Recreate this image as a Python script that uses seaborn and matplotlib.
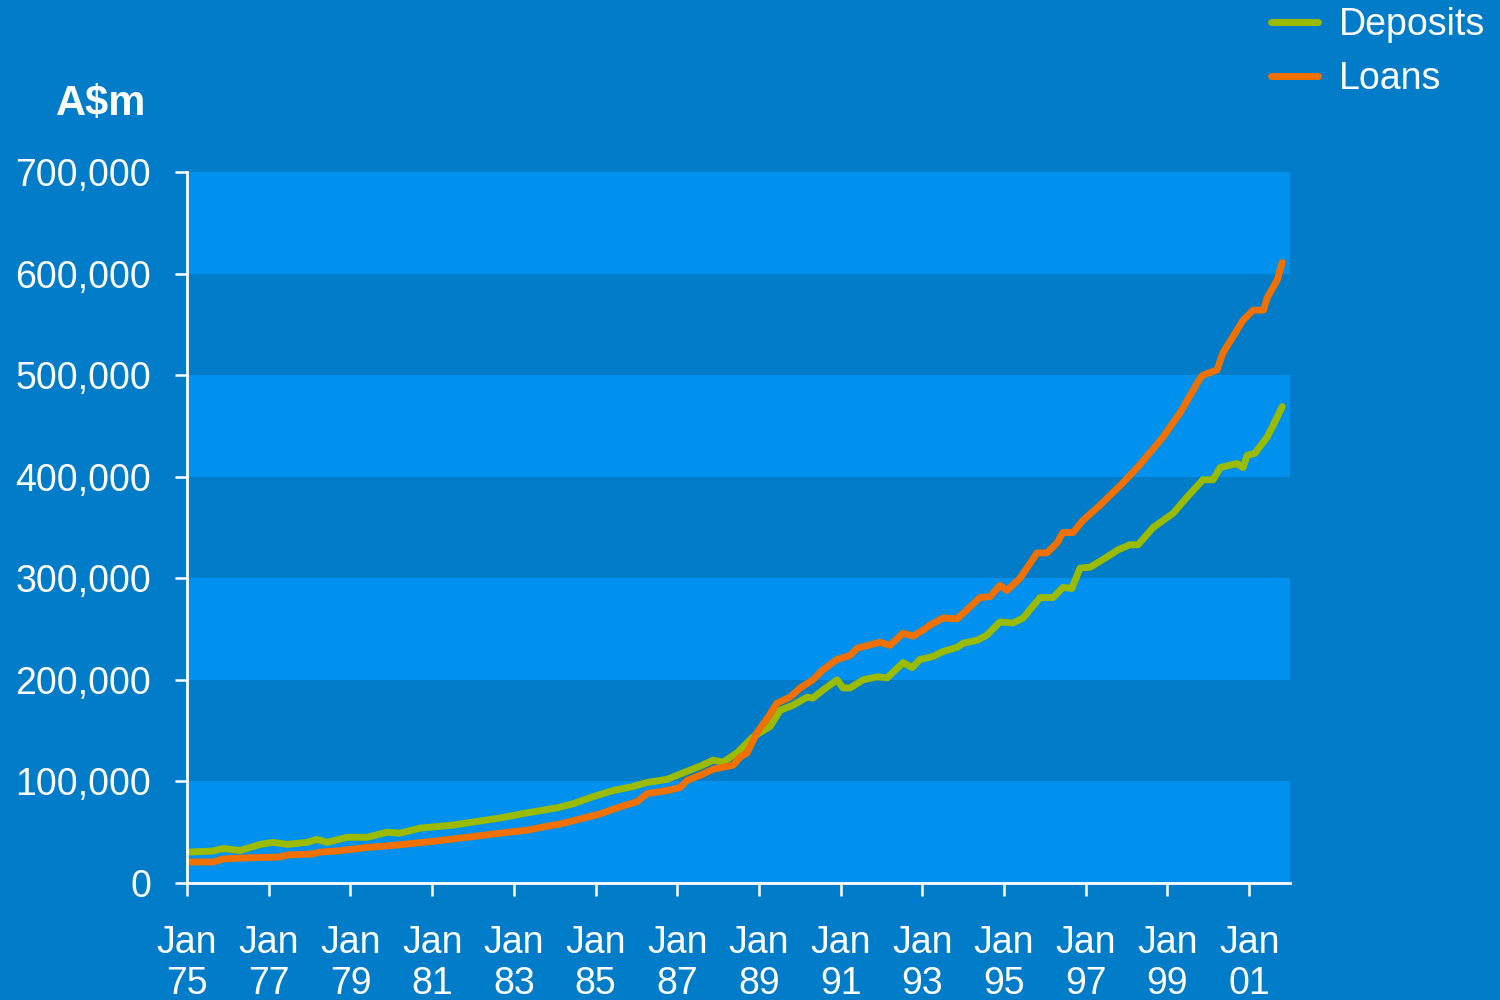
import pandas as pd
import matplotlib
matplotlib.use("Agg")
import matplotlib.pyplot as plt
import seaborn as sns

# Deposits and loans, A$m (decimal years)
dep_years = [1975.07, 1975.64, 1975.88, 1976.30, 1976.79, 1977.11, 1977.45, 1977.94,
             1978.18, 1978.43, 1978.92, 1979.41, 1979.90, 1980.21, 1980.70, 1981.51,
             1982.00, 1982.66, 1983.32, 1984.06, 1984.45, 1984.94, 1985.43, 1985.92,
             1986.26, 1986.75, 1987.24, 1987.56, 1987.88, 1988.12, 1988.46, 1988.86,
             1989.27, 1989.52, 1989.83, 1990.18, 1990.32, 1990.57, 1990.91, 1991.06,
             1991.23, 1991.55, 1991.89, 1992.14, 1992.53, 1992.75, 1992.94, 1993.26,
             1993.51, 1993.85, 1994.00, 1994.34, 1994.58, 1994.90, 1995.22, 1995.47,
             1995.88, 1996.20, 1996.44, 1996.66, 1996.86, 1997.11, 1997.52, 1997.79,
             1998.08, 1998.28, 1998.65, 1999.14, 1999.48, 1999.87, 2000.12, 2000.29,
             2000.70, 2000.85, 2000.95, 2001.14, 2001.44, 2001.69, 2001.81]
dep_values = [30500, 31500, 34000, 32000, 38000, 40000, 38000, 40000,
              43000, 40000, 45000, 45000, 50000, 49000, 54000, 57000,
              60000, 64000, 69000, 74000, 78000, 85000, 91000, 95000,
              99000, 102000, 110000, 115000, 121000, 119000, 128000, 144000,
              154000, 170000, 175000, 183000, 182000, 190000, 200000, 192000,
              192000, 200000, 203000, 202000, 217000, 212000, 220000, 223000,
              228000, 232000, 236000, 239000, 244000, 257000, 256000, 261000,
              281000, 281000, 291000, 290000, 310000, 311000, 321000, 328000,
              333000, 333000, 350000, 364000, 380000, 397000, 397000, 409000,
              413000, 409000, 421000, 423000, 439000, 459000, 469000]

loan_years = [1975.07, 1975.64, 1975.88, 1976.37, 1977.28, 1977.45, 1978.08, 1978.26,
              1978.67, 1979.41, 1980.04, 1980.53, 1981.02, 1981.85, 1982.66, 1983.32,
              1983.96, 1984.13, 1984.62, 1985.11, 1985.60, 1986.02, 1986.26, 1986.75,
              1987.07, 1987.24, 1987.56, 1987.88, 1988.37, 1988.54, 1988.71, 1988.95,
              1989.20, 1989.44, 1989.76, 1990.01, 1990.32, 1990.57, 1990.91, 1991.23,
              1991.40, 1991.96, 1992.21, 1992.53, 1992.77, 1993.02, 1993.19, 1993.51,
              1993.85, 1994.09, 1994.41, 1994.66, 1994.90, 1995.07, 1995.39, 1995.81,
              1996.05, 1996.30, 1996.44, 1996.69, 1996.93, 1997.35, 1997.91, 1998.33,
              1998.89, 1999.31, 1999.80, 1999.87, 2000.21, 2000.36, 2000.85, 2001.10,
              2001.35, 2001.44, 2001.69, 2001.81]
loan_values = [20700, 20700, 23600, 24600, 25600, 27600, 28600, 30500,
               31500, 35000, 37000, 39000, 41000, 45000, 49000, 52000,
               57000, 58000, 63000, 68000, 75000, 80000, 88000, 91000,
               94000, 101000, 106000, 112000, 116000, 124000, 128000, 148000,
               162000, 177000, 183000, 192000, 200000, 210000, 220000, 224000,
               231000, 237000, 234000, 246000, 243000, 249000, 254000, 261000,
               260000, 269000, 281000, 282000, 293000, 288000, 300000, 325000,
               325000, 335000, 345000, 345000, 357000, 372000, 394000, 412000,
               439000, 463000, 497000, 500000, 505000, 522000, 554000, 564000,
               564000, 576000, 594000, 611000]

tick_years = list(range(1975, 2002, 2))
tick_labels = ["Jan\n" + str(y)[-2:] for y in tick_years]
y_ticks = [0, 100000, 200000, 300000, 400000, 500000, 600000, 700000]

bg = "#007CC8"
band = "#0091EE"
colors = {"Deposits": "#9BBB00", "Loans": "#F07000"}

df = pd.concat([
    pd.DataFrame({"year": dep_years, "value": dep_values, "series": "Deposits"}),
    pd.DataFrame({"year": loan_years, "value": loan_values, "series": "Loans"}),
])

sns.set_style("white")
plt.rcParams["font.family"] = ["Liberation Sans", "DejaVu Sans"]

fig = plt.figure(figsize=(15, 10), dpi=100, facecolor=bg)
ax = fig.add_axes([0.1247, 0.117, 0.7353, 0.711])
ax.set_facecolor(bg)

# alternating horizontal bands
for lo in y_ticks[::2]:
    ax.axhspan(lo, lo + 100000, color=band, lw=0, zorder=0)

sns.lineplot(data=df, x="year", y="value", hue="series", hue_order=["Deposits", "Loans"],
             palette=colors, linewidth=5, estimator=None, sort=True, ax=ax, legend=False)

ax.set_xlim(1975, 2002)
ax.set_ylim(0, 700000)
ax.set_xticks(tick_years)
ax.set_xticklabels(tick_labels, fontsize=27, color="white", linespacing=1.2)
ax.set_yticks(y_ticks)
ax.set_yticklabels([f"{v:,}" for v in y_ticks], fontsize=27, color="white")
ax.tick_params(axis="both", direction="out", length=9, width=1.8, color="white",
               bottom=True, left=True)
ax.tick_params(axis="y", pad=17)
ax.tick_params(axis="x", pad=21)
ax.set_xlabel("")
ax.set_ylabel("")

for side in ["top", "right"]:
    ax.spines[side].set_visible(False)
for side in ["left", "bottom"]:
    ax.spines[side].set_color("white")
    ax.spines[side].set_linewidth(2)

fig.text(0.037, 0.896, r"A\$m", fontsize=30, fontweight="bold", color="white", va="center")

handles = [plt.Line2D([], [], color=colors[k], lw=5) for k in ["Deposits", "Loans"]]
leg = fig.legend(handles, ["Deposits", "Loans"], loc="upper right", bbox_to_anchor=(1.0, 1.008),
                 frameon=False, fontsize=27, handlelength=1.25, handletextpad=0.55,
                 labelspacing=0.48, borderaxespad=0)
for t in leg.get_texts():
    t.set_color("white")

fig.savefig("out.png", dpi=100, facecolor=bg)
